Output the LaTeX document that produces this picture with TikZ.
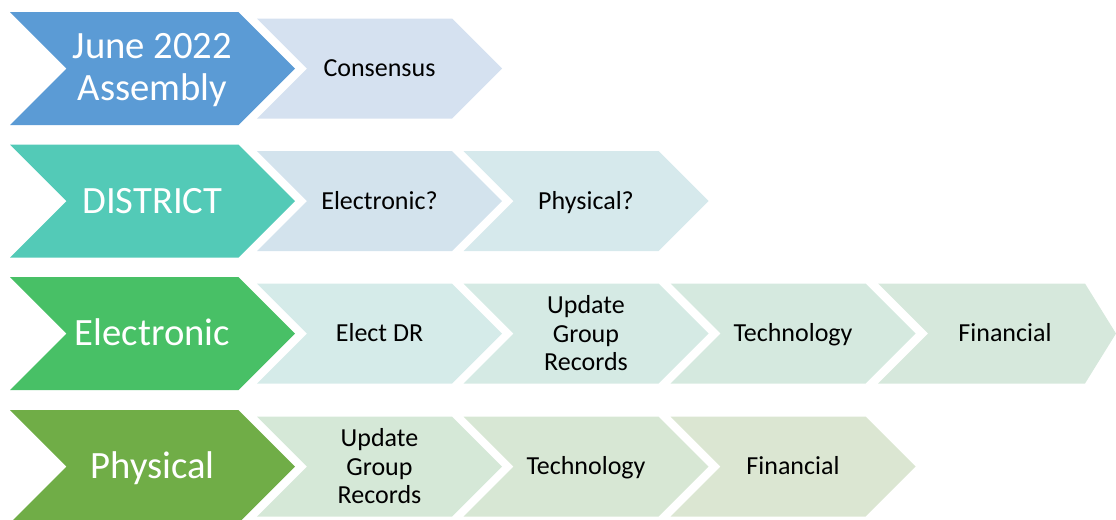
\documentclass[tikz,border=0pt]{standalone}
\usepackage{fontspec}
\setmainfont{Carlito}
\usepackage{tikz}

\definecolor{mainBlue}{RGB}{91,155,213}
\definecolor{mainTeal}{RGB}{83,202,183}
\definecolor{mainGreen}{RGB}{72,192,102}
\definecolor{mainOlive}{RGB}{112,173,71}
\definecolor{subA}{RGB}{213,225,240}
\definecolor{subB}{RGB}{211,227,237}
\definecolor{subC}{RGB}{214,233,236}
\definecolor{subD}{RGB}{213,235,233}
\definecolor{subE}{RGB}{213,234,228}
\definecolor{subF}{RGB}{213,233,223}
\definecolor{subG}{RGB}{214,232,220}
\definecolor{subH}{RGB}{213,232,215}
\definecolor{subI}{RGB}{215,231,212}
\definecolor{subJ}{RGB}{219,230,210}

\begin{document}
\begin{tikzpicture}[x=0.75pt,y=0.75pt,yscale=-1,xscale=1,
  maintxt/.style={inner sep=0.75pt,align=center,text=white,font=\fontsize{29pt}{32pt}\selectfont},
  mainone/.style={maintxt,text height=24.5pt,text depth=5.8pt},
  subtxt/.style={inner sep=0.75pt,align=center,text=black,font=\fontsize{19.5pt}{21.4pt}\selectfont},
  subone/.style={subtxt,text height=16.5pt,text depth=3.9pt}]
\useasboundingbox (0,0) rectangle (1116,519);
\clip (0,0) rectangle (1116,519);

%Shape: Chevron [main row 1]
\fill [mainBlue] (10,12) -- (238.5,12) -- (295,68.5) -- (238.5,125) -- (10,125) -- (66.5,68.5) -- cycle ;
%Shape: Chevron [main row 2]
\fill [mainTeal] (10,144.5) -- (238.5,144.5) -- (295,201) -- (238.5,257.5) -- (10,257.5) -- (66.5,201) -- cycle ;
%Shape: Chevron [main row 3]
\fill [mainGreen] (10,277) -- (238.5,277) -- (295,333.5) -- (238.5,390) -- (10,390) -- (66.5,333.5) -- cycle ;
%Shape: Chevron [main row 4]
\fill [mainOlive] (10,410) -- (238.5,410) -- (295,466.5) -- (238.5,523) -- (10,523) -- (66.5,466.5) -- cycle ;

%Shape: Chevron [row 1]
\fill [subA] (257,18.5) -- (452,18.5) -- (502,68.5) -- (452,118.5) -- (257,118.5) -- (307,68.5) -- cycle ;
%Shape: Chevron [row 2]
\fill [subB] (257,151) -- (452,151) -- (502,201) -- (452,251) -- (257,251) -- (307,201) -- cycle ;
\fill [subC] (463.5,151) -- (658.5,151) -- (708.5,201) -- (658.5,251) -- (463.5,251) -- (513.5,201) -- cycle ;
%Shape: Chevron [row 3]
\fill [subD] (257,283.5) -- (452,283.5) -- (502,333.5) -- (452,383.5) -- (257,383.5) -- (307,333.5) -- cycle ;
\fill [subE] (463.5,283.5) -- (658.5,283.5) -- (708.5,333.5) -- (658.5,383.5) -- (463.5,383.5) -- (513.5,333.5) -- cycle ;
\fill [subF] (670.5,283.5) -- (865.5,283.5) -- (915.5,333.5) -- (865.5,383.5) -- (670.5,383.5) -- (720.5,333.5) -- cycle ;
\fill [subG] (878,283.5) -- (1085,283.5) -- (1116,333.5) -- (1085,383.5) -- (878,383.5) -- (928,333.5) -- cycle ;
%Shape: Chevron [row 4]
\fill [subH] (257,416.5) -- (452,416.5) -- (502,466.5) -- (452,516.5) -- (257,516.5) -- (307,466.5) -- cycle ;
\fill [subI] (463.5,416.5) -- (658.5,416.5) -- (708.5,466.5) -- (658.5,516.5) -- (463.5,516.5) -- (513.5,466.5) -- cycle ;
\fill [subJ] (670.5,416.5) -- (865.5,416.5) -- (915.5,466.5) -- (865.5,516.5) -- (670.5,516.5) -- (720.5,466.5) -- cycle ;

% Text Node
\draw (152.5,70) node [maintxt] (assembly) {June 2022\\Assembly};
% Text Node
\draw (152.5,201) node [mainone] (district) {DISTRICT};
% Text Node
\draw (152.5,333.5) node [mainone] (electronic) {Electronic};
% Text Node
\draw (152.5,466.5) node [mainone] (physical) {Physical};

% Text Node
\draw (379.5,68.5) node [subone] (consensus) {Consensus};
% Text Node
\draw (379.5,201) node [subone] (askElec) {Electronic?};
% Text Node
\draw (586,201) node [subone] (askPhys) {Physical?};
% Text Node
\draw (379.5,333.5) node [subone] (electDR) {Elect DR};
% Text Node
\draw (586,333.5) node [subtxt] (elecRecords) {Update\\Group\\Records};
% Text Node
\draw (793,333.5) node [subone] (elecTech) {Technology};
% Text Node
\draw (1005,333.5) node [subone] (elecFin) {Financial};
% Text Node
\draw (379.5,466.5) node [subtxt] (physRecords) {Update\\Group\\Records};
% Text Node
\draw (586,466.5) node [subone] (physTech) {Technology};
% Text Node
\draw (793,466.5) node [subone] (physFin) {Financial};
\end{tikzpicture}
\end{document}
